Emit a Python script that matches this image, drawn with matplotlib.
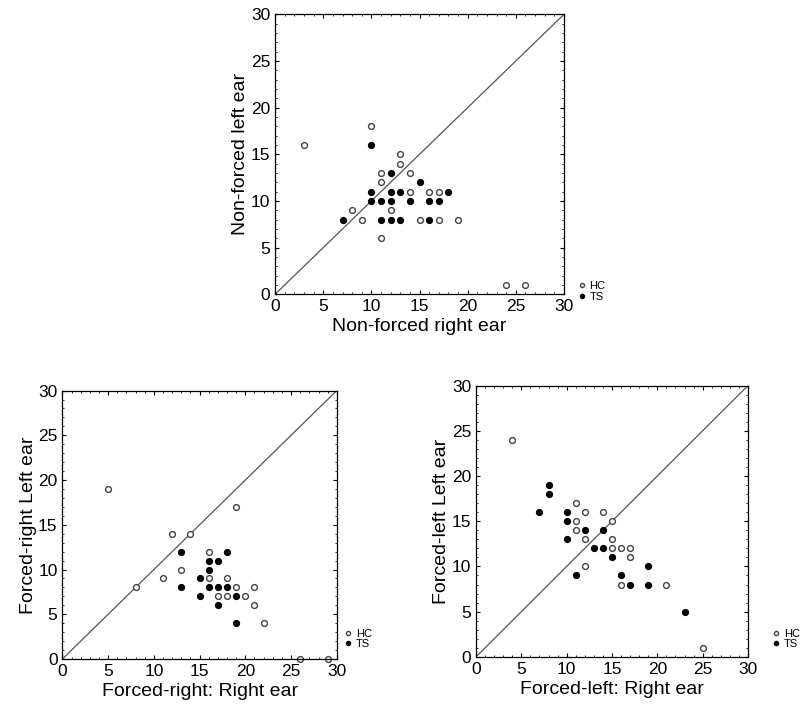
import numpy as np
import matplotlib
matplotlib.use("Agg")
import matplotlib.pyplot as plt

plt.rcParams['font.family'] = ['Liberation Sans', 'DejaVu Sans']

# Non-forced condition
nf_hc_x = [3, 10, 13, 13, 11, 14, 11, 14, 16, 17, 8, 12, 9, 15, 17, 19, 11, 24, 26]
nf_hc_y = [16, 18, 15, 14, 13, 13, 12, 11, 11, 11, 9, 9, 8, 8, 8, 8, 6, 1, 1]
nf_ts_x = [10, 12, 15, 10, 12, 13, 18, 10, 11, 12, 14, 16, 17, 7, 11, 12, 13, 16]
nf_ts_y = [16, 13, 12, 11, 11, 11, 11, 10, 10, 10, 10, 10, 10, 8, 8, 8, 8, 8]

# Forced-right condition
fr_hc_x = [5, 19, 12, 14, 16, 13, 11, 16, 18, 8, 19, 21, 17, 18, 20, 21, 22, 26, 29]
fr_hc_y = [19, 17, 14, 14, 12, 10, 9, 9, 9, 8, 8, 8, 7, 7, 7, 6, 4, 0, 0]
fr_ts_x = [13, 18, 16, 17, 16, 15, 13, 16, 17, 18, 15, 19, 17, 19]
fr_ts_y = [12, 12, 11, 11, 10, 9, 8, 8, 8, 8, 7, 7, 6, 4]

# Forced-left condition
fl_hc_x = [4, 11, 12, 14, 11, 15, 11, 12, 15, 15, 16, 17, 17, 12, 16, 21, 25]
fl_hc_y = [24, 17, 16, 16, 15, 15, 14, 13, 13, 12, 12, 12, 11, 10, 8, 8, 1]
fl_ts_x = [8, 8, 7, 10, 10, 12, 14, 10, 13, 14, 15, 19, 11, 16, 17, 19, 23]
fl_ts_y = [19, 18, 16, 16, 15, 14, 14, 13, 12, 12, 11, 10, 9, 9, 8, 8, 5]

panels = [
    ([0.344, 0.588, 0.361, 0.392], nf_hc_x, nf_hc_y, nf_ts_x, nf_ts_y,
     "Non-forced right ear", "Non-forced left ear", (1.03, 0.01)),
    ([0.078, 0.077, 0.343, 0.376], fr_hc_x, fr_hc_y, fr_ts_x, fr_ts_y,
     "Forced-right: Right ear", "Forced-right Left ear", (1.01, 0.075)),
    ([0.595, 0.080, 0.340, 0.380], fl_hc_x, fl_hc_y, fl_ts_x, fl_ts_y,
     "Forced-left: Right ear", "Forced-left Left ear", (1.07, 0.066)),
]

fig = plt.figure(figsize=(8, 7.14), dpi=100)

for rect, hx, hy, tx, ty, xl, yl, lpos in panels:
    ax = fig.add_axes(rect)
    ax.plot([0, 30], [0, 30], color='#555555', lw=0.9)
    ax.plot(hx, hy, 'o', ms=4.2, mfc='white', mec='#444444', mew=1.0,
            ls='none', label='HC', clip_on=False)
    ax.plot(tx, ty, 'o', ms=4.2, mfc='black', mec='black', mew=1.0,
            ls='none', label='TS', clip_on=False)
    ax.set_xlim(0, 30)
    ax.set_ylim(0, 30)
    ax.set_xticks(range(0, 31, 5))
    ax.set_yticks(range(0, 31, 5))
    ax.set_xticks(range(0, 31), minor=True)
    ax.set_yticks(range(0, 31), minor=True)
    ax.tick_params(which='both', direction='in', top=True, right=True, labelsize=12.5)
    ax.tick_params(which='major', length=3, width=0.8)
    ax.tick_params(which='minor', length=1.5, width=0.6)
    for s in ax.spines.values():
        s.set_linewidth(0.9)
    ax.set_xlabel(xl, fontsize=14, labelpad=3)
    ax.set_ylabel(yl, fontsize=14, labelpad=1)
    ax.legend(loc='center left', bbox_to_anchor=lpos, frameon=False,
              fontsize=8, handlelength=0.6, handletextpad=0.4,
              labelspacing=0.05, borderpad=0, markerscale=0.7)

fig.savefig("out.png", dpi=100)
